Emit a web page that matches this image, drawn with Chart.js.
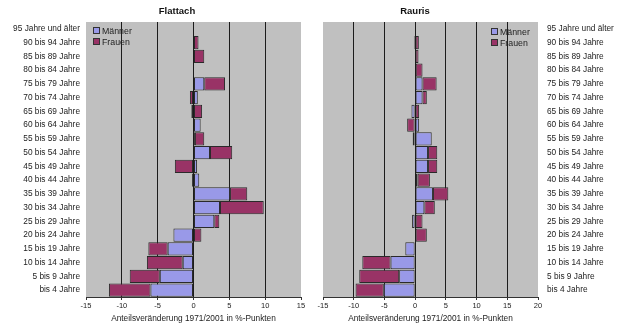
<!DOCTYPE html>
<html>
<head>
<meta charset="utf-8">
<script src="https://cdn.jsdelivr.net/npm/chart.js"></script>
<style>
  body { margin:0; background:#fff; font-family:'Liberation Sans', Arial, sans-serif; }
  #wrap { position:relative; width:617px; height:327px; overflow:hidden; }
  .box { position:absolute; top:0; height:327px; }
  .ttl { position:absolute; top:5px; width:120px; text-align:center; font-weight:bold; font-size:9.5px; color:#111; }
  .leg { position:absolute; font-size:8.8px; color:#222; line-height:11px; }
  .leg i { display:inline-block; width:5px; height:5px; border:1px solid #333; margin-right:2px; vertical-align:0px; }
</style>
</head>
<body>
<div id="wrap">
  <div class="box" style="left:0;width:310px"><canvas id="chart-flattach"></canvas></div>
  <div class="box" style="left:310px;width:307px"><canvas id="chart-rauris"></canvas></div>
  <div class="ttl" style="left:117px">Flattach</div>
  <div class="ttl" style="left:355px">Rauris</div>
  <div class="leg" style="left:93px;top:26px"><div><i style="background:#9999e8"></i>Männer</div><div><i style="background:#993366"></i>Frauen</div></div>
  <div class="leg" style="left:491px;top:27px"><div><i style="background:#9999e8"></i>Männer</div><div><i style="background:#993366"></i>Frauen</div></div>
</div>
<script>
// age groups, top to bottom
const ageGroups = ['95 Jahre und älter', '90 bis 94 Jahre', '85 bis 89 Jahre', '80 bis 84 Jahre',
  '75 bis 79 Jahre', '70 bis 74 Jahre', '65 bis 69 Jahre', '60 bis 64 Jahre', '55 bis 59 Jahre',
  '50 bis 54 Jahre', '45 bis 49 Jahre', '40 bis 44 Jahre', '35 bis 39 Jahre', '30 bis 34 Jahre',
  '25 bis 29 Jahre', '20 bis 24 Jahre', '15 bis 19 Jahre', '10 bis 14 Jahre', '5 bis 9 Jahre', 'bis 4 Jahre'];

const flattachMaenner = [0, 0, 0, 0, 1.5, 0.6, -0.3, 1.0, 0.2, 2.3, 0.5, 0.8, 5.1, 3.7, 2.9, -2.8, -3.6, -1.5, -4.7, -6.0];
const flattachFrauen  = [0, 0.7, 1.5, 0, 2.9, -0.5, 1.2, 0, 1.3, 3.1, -2.6, -0.2, 2.4, 6.1, 0.7, 1.1, -2.7, -5.0, -4.2, -5.8];

const raurisMaenner = [0, -0.2, 0, 0.1, 1.2, 1.2, -0.6, 0.65, 2.7, 2.1, 2.1, 0.4, 2.9, 1.5, -0.5, 0, -1.6, -4.0, -2.6, -5.1];
const raurisFrauen  = [0, 0.6, 0.55, 1.1, 2.3, 0.7, 0.65, -1.3, -0.4, 1.5, 1.5, 2.0, 2.5, 1.7, 1.2, 1.9, 0, -4.6, -6.5, -4.6];

const axisTitle = 'Anteilsveränderung 1971/2001 in %-Punkten';
const colMaenner = '#9999e8';
const colFrauen = '#993366';
const fam = "'Liberation Sans', Arial, sans-serif";

// grey plot area like the Excel original
const plotBg = {
  id: 'plotBg',
  beforeDraw(chart) {
    const a = chart.chartArea, ctx = chart.ctx;
    ctx.save();
    ctx.fillStyle = '#c0c0c0';
    ctx.fillRect(a.left, a.top, a.right - a.left, a.bottom - a.top);
    ctx.restore();
  }
};

function makeChart(id, men, women, xMax, side, pad) {
  return new Chart(document.getElementById(id), {
    type: 'bar',
    data: {
      labels: ageGroups,
      datasets: [
        { label: 'Männer', data: men, backgroundColor: colMaenner, borderColor: '#2a2a2a', borderWidth: 1, borderSkipped: false },
        { label: 'Frauen', data: women, backgroundColor: colFrauen, borderColor: '#2a2a2a', borderWidth: 1, borderSkipped: false }
      ]
    },
    options: {
      indexAxis: 'y',
      responsive: true,
      maintainAspectRatio: false,
      animation: false,
      datasets: { bar: { categoryPercentage: 0.95, barPercentage: 1 } },
      layout: { padding: pad },
      plugins: { legend: { display: false }, tooltip: { enabled: false } },
      scales: {
        x: {
          stacked: true, min: -15, max: xMax,
          ticks: { stepSize: 5, color: '#222', font: { family: fam, size: 7.5 }, padding: 1 },
          grid: {
            color: (c) => (c.tick && (c.tick.value === -15 || c.tick.value === xMax)) ? 'rgba(0,0,0,0)' : '#1c1c1c',
            tickColor: '#333', tickLength: 3
          },
          border: { display: true, color: '#333' },
          title: { display: true, text: axisTitle, color: '#222', font: { family: fam, size: 8.3 }, padding: { top: 0, bottom: 3 } },
          afterFit: (s) => { s.height = 30; }
        },
        y: {
          stacked: true, position: side,
          ticks: { color: '#222', font: { family: fam, size: 8.3 }, autoSkip: false, padding: side === 'left' ? 6 : 9 },
          grid: { display: false, drawTicks: false },
          border: { display: false },
          afterFit: (s) => { s.width = side === 'left' ? 86 : 79; }
        }
      }
    },
    plugins: [plotBg]
  });
}

makeChart('chart-flattach', flattachMaenner, flattachFrauen, 15, 'left', { top: 22, right: 9, left: 0, bottom: 0 });
makeChart('chart-rauris', raurisMaenner, raurisFrauen, 20, 'right', { top: 22, right: 0, left: 13, bottom: 0 });
</script>
</body>
</html>
